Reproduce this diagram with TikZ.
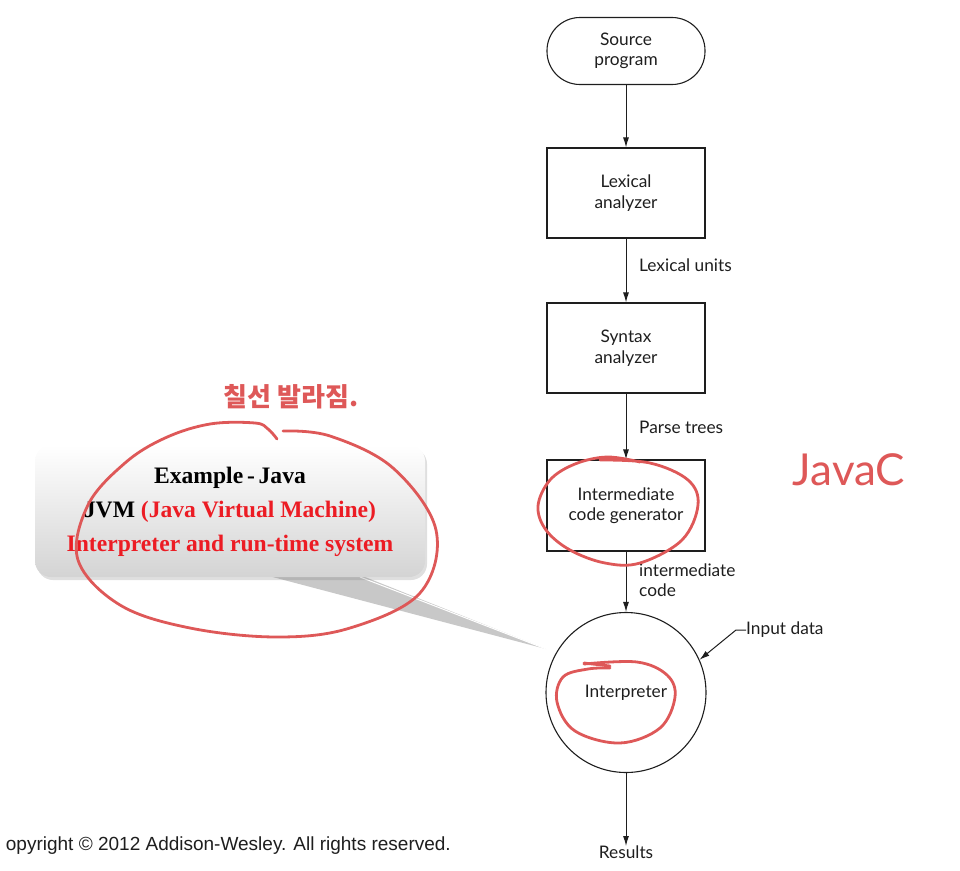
\documentclass[tikz,border=0pt]{standalone}
\usepackage{fontspec}
\setmainfont{Lato}
\newfontfamily\timesf{Liberation Serif}
\newfontfamily\arialf{Liberation Sans}
\newfontfamily\krfont{Noto Sans CJK KR}
\usetikzlibrary{arrows.meta,shadows}
\definecolor{pen}{RGB}{222,88,88}
\definecolor{jred}{RGB}{236,28,36}
\definecolor{ink}{RGB}{30,30,30}
\definecolor{tailgray}{RGB}{200,200,200}
\tikzset{
  stagebox/.style={draw=ink, line width=1.1pt, minimum width=158pt, minimum height=90pt, align=center, font=\fontsize{17.3}{20.5}\selectfont, text=ink},
  lbl/.style={font=\fontsize{17.3}{20.5}\selectfont, text=ink, anchor=west, align=left, inner sep=0pt},
  flow/.style={draw=ink, line width=1pt, -{Latex[length=10pt,width=6pt]}},
  penline/.style={draw=pen, line width=2.8pt, line cap=round, line join=round}
}
\begin{document}
\begin{tikzpicture}[x=1pt,y=-1pt]
\useasboundingbox (0,0) rectangle (960,870);
% --- flowchart nodes
\node[stagebox, rounded corners=33pt, minimum height=67pt] (src) at (626,51) {Source\\program};
\node[stagebox] (lex) at (626,193) {Lexical\\analyzer};
\node[stagebox] (syn) at (626,348) {Syntax\\analyzer};
\node[stagebox, minimum height=91pt] (icg) at (626,505.5) {Intermediate\\code generator};
\node[circle, draw=ink, line width=1.1pt, minimum size=160pt, font=\fontsize{17.3}{20.5}\selectfont, text=ink] (interp) at (626,692.5) {Interpreter};
\node[font=\fontsize{17.3}{20.5}\selectfont, text=ink, anchor=north, inner sep=0pt] (res) at (626,846) {Results};
\node[lbl] (lu) at (639,265) {Lexical units};
\node[lbl] (pt) at (639,427) {Parse trees};
\node[lbl] (ic) at (639,580) {intermediate\\code};
\node[lbl] (inp) at (746,630) {Input data};
% --- connectors
\draw[flow] (src) -- (lex);
\draw[flow] (lex) -- (syn);
\draw[flow] (syn) -- (icg);
\draw[flow] (icg) -- (interp);
\draw[flow] (interp) -- (res.north);
\draw[flow] (inp.west) -- ++(-10,0) -- (interp.24);
% --- copyright (as printed)
\node[anchor=base east, inner sep=0pt, font=\arialf\fontsize{19}{22}\selectfont, text=ink] (copy) at (451,850) {opyright © 2012 Addison-Wesley. All rights reserved.};
% --- callout
\fill[tailgray] (265,575) -- (546,649) -- (360,575) -- cycle;
\draw[white, line width=1pt] (360,577) -- (546,649);
\path[rounded corners=16pt, top color=white, bottom color=black!17, drop shadow={shadow xshift=2pt, shadow yshift=-3pt, opacity=0.25}] (35,445) rectangle (425,577);
\node[font=\timesf\bfseries\fontsize{23.6}{34}\selectfont, align=center, inner sep=0pt] (callout) at (230,512) {\spaceskip=0.16em Example - Java\\JVM \textcolor{jred}{(Java Virtual Machine)}\\\textcolor{jred}{Interpreter and run-time system}};
% --- handwritten annotations
\draw[penline] plot[smooth, tension=0.6] coordinates {(283,431) (330,436) (393,468) (436,530) (420,593) (350,628) (277,637) (190,628) (120,605) (78,560) (88,505) (125,463) (165,438) (210,424) (255,423) (268,429) (277,439)};
\draw[penline] plot[smooth, tension=0.6] coordinates {(600,460) (650,463) (688,480) (698,505) (682,540) (640,563) (605,563) (570,550) (546,530) (538,506) (550,480) (575,464) (607,457) (640,462)};
\draw[penline] (584,663) -- (610,666);
\draw[penline] plot[smooth, tension=0.6] coordinates {(584,664) (637,662) (667,675) (675,697) (660,728) (620,743) (575,731) (557,702) (563,677) (588,669) (610,668)};
\node[text=pen, font=\krfont\bfseries\fontsize{26}{26}\selectfont, inner sep=0pt] (kr) at (291,397) {칠선 발라짐.};
\node[text=pen, font=\fontsize{44}{44}\selectfont, inner sep=0pt] (javac) at (849,470) {JavaC};
\end{tikzpicture}
\end{document}
